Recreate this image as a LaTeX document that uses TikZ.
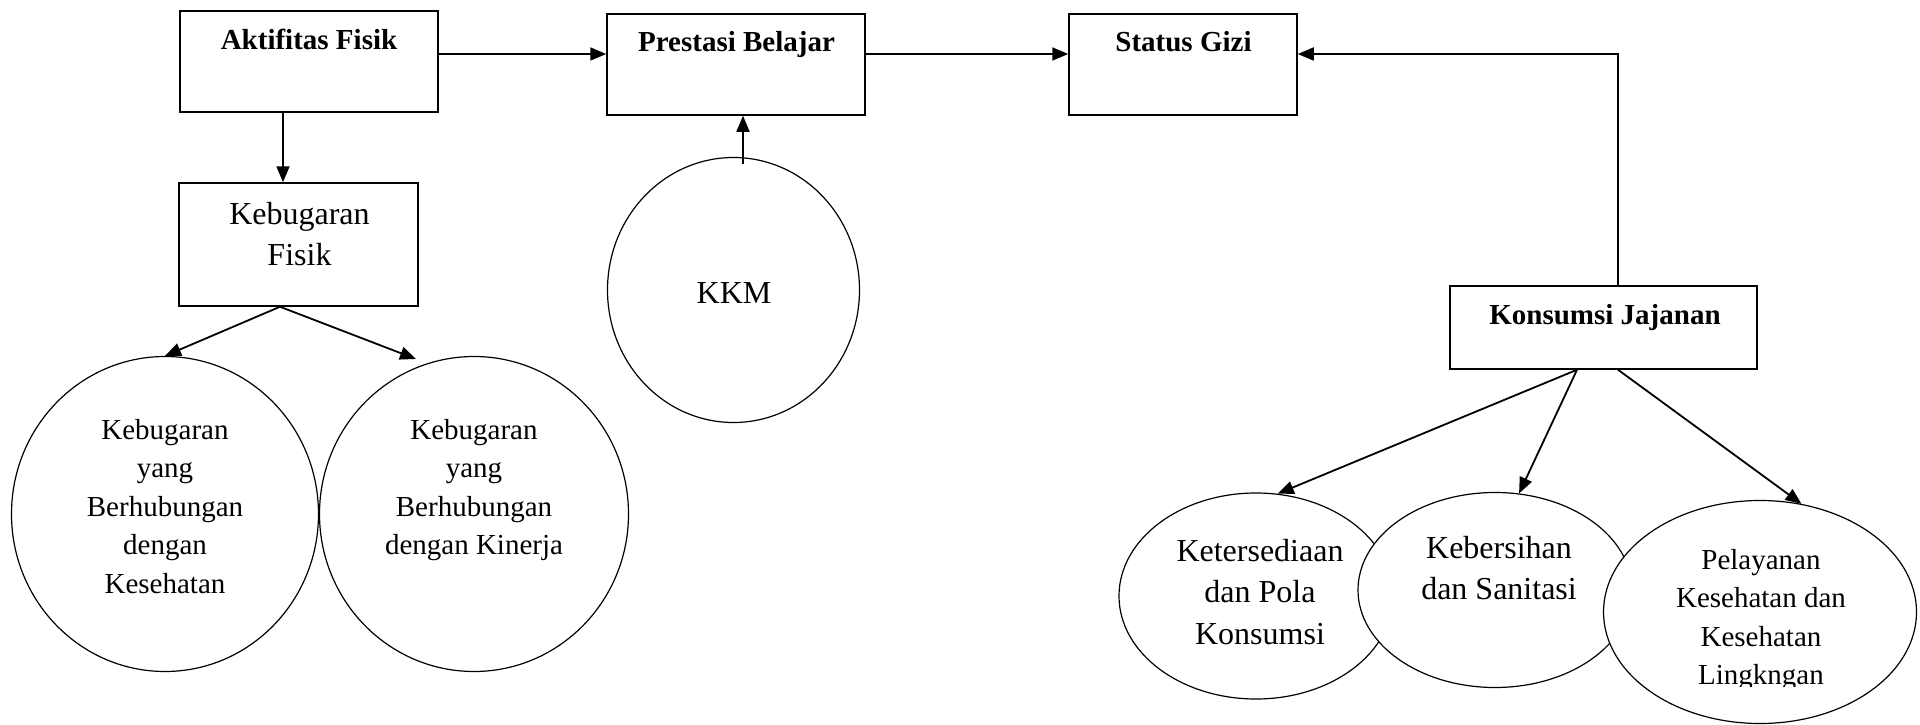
\documentclass[tikz,border=0pt]{standalone}
\usepackage{fontspec}
\setmainfont{Liberation Serif}
\usetikzlibrary{arrows.meta,shapes.geometric}
\newcommand{\mlines}[1]{\begin{tabular}[t]{@{}c@{}}#1\end{tabular}}
\begin{document}
\begin{tikzpicture}[x=1pt,y=-1pt,
  boxn/.style={draw, line width=1.5pt, rectangle, inner sep=0pt},
  ell/.style={draw, line width=1.2pt, ellipse, fill=white, inner sep=0pt},
  txt/.style={anchor=base, inner sep=0pt},
  tb/.style={txt, font=\fontsize{29}{38.5}\selectfont\bfseries},
  tn/.style={txt, font=\fontsize{29}{38.5}\selectfont},
  tl/.style={txt, font=\fontsize{32}{41.5}\selectfont},
  arr/.style={line width=1.8pt, -{Triangle[length=16pt,width=13pt]}},
]
\useasboundingbox (0,0) rectangle (1920,725);

% boxes
\node[boxn, minimum width=258pt, minimum height=101pt] (af) at (309,61.5) {};
\node[boxn, minimum width=258pt, minimum height=101pt] (pb) at (736,64.5) {};
\node[boxn, minimum width=228pt, minimum height=101pt] (sg) at (1183,64.5) {};
\node[boxn, minimum width=307pt, minimum height=83pt] (kj) at (1603.5,327.5) {};
\node[boxn, minimum width=239pt, minimum height=123pt] (kf) at (298.5,244.5) {};

\node[tb] (aft) at (309,50) {Aktifitas Fisik};
\node[tb] (pbt) at (736.5,52) {Prestasi Belajar};
\node[tb] (sgt) at (1183.5,52) {Status Gizi};
\node[tb] (kjt) at (1605,324) {Konsumsi Jajanan};
\node[tl] (kft) at (299.5,224) {\mlines{Kebugaran\\Fisik}};

% ellipses
\node[ell, minimum width=252pt, minimum height=265pt] (kkm) at (733.5,290) {};
\node[tl] (kkmt) at (734,303) {KKM};

\node[ell, minimum width=307pt, minimum height=315pt] (e1) at (165,514) {};
\node[ell, minimum width=309pt, minimum height=315pt] (e2) at (474,514) {};
\node[tn] (e1t) at (165,439) {\mlines{Kebugaran\\yang\\Berhubungan\\dengan\\Kesehatan}};
\node[tn] (e2t) at (474,439) {\mlines{Kebugaran\\yang\\Berhubungan\\dengan Kinerja}};

\node[ell, minimum width=274pt, minimum height=206pt] (eA) at (1256,596) {};
\node[ell, minimum width=274pt, minimum height=195pt] (eB) at (1495,590) {};
\node[ell, minimum width=313pt, minimum height=223pt] (eC) at (1760,612) {};
\node[tl] (eAt) at (1260,561) {\mlines{Ketersediaan\\dan Pola\\Konsumsi}};
\node[tl] (eBt) at (1499,558) {\mlines{Kebersihan\\dan Sanitasi}};
\begin{scope}
  \clip (1600,500) rectangle (1920,686);
  \node[tn] (eCt) at (1761,569) {\mlines{Pelayanan\\Kesehatan dan\\Kesehatan\\Lingkngan}};
\end{scope}

% helper coordinates
\coordinate (row) at (0,54);
\coordinate (c1) at (283,0);
\coordinate (c2) at (743,0);
\coordinate (kjx) at (1618,0);
\coordinate (kfs) at (280,0);
\coordinate (t2) at (416,359);
\coordinate (kjs1) at (1577,0);

% connectors
\draw[arr] (af.east |- row) -- (pb.west |- row);
\draw[arr] (pb.east |- row) -- (sg.west |- row);
\draw[arr] (kj.north -| kjx) |- (sg.east |- row);
\draw[arr] (af.south -| c1) -- (kf.north -| c1);
\draw[arr] ([yshift=-7pt]kkm.north -| c2) -- (pb.south -| c2);
\draw[arr] (kf.south -| kfs) -- (e1.north);
\draw[arr] (kf.south -| kfs) -- (t2);
\draw[arr] (kj.south -| kjs1) -- (eA.78);
\draw[arr] (kj.south -| kjs1) -- (eB.76);
\draw[arr] (kj.south -| kjx) -- (eC.69);
\end{tikzpicture}
\end{document}
